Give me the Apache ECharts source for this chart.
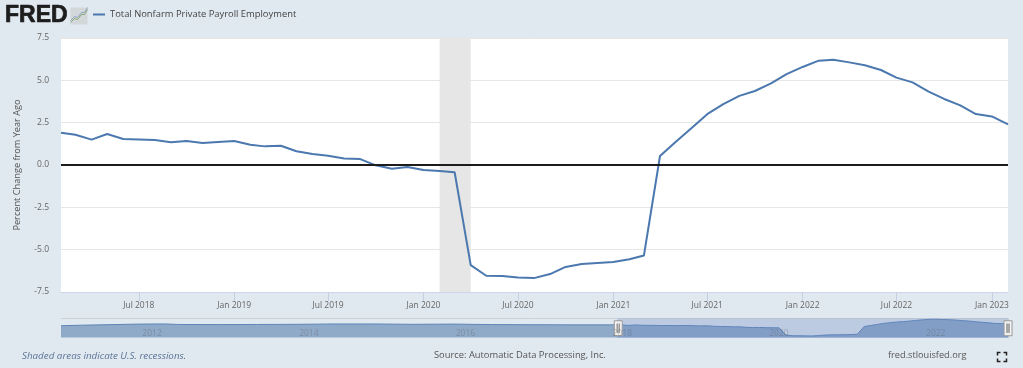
<!DOCTYPE html>
<html>
<head>
<meta charset="utf-8">
<style>
  html, body { margin: 0; padding: 0; background: #e1e9f0; }
  #main { width: 1023px; height: 368px; }
</style>
<script src="https://cdn.jsdelivr.net/npm/echarts@6/dist/echarts.min.js"></script>
</head>
<body>
<div id="main"></div>
<script>
var seriesName = 'Total Nonfarm Private Payroll Employment';

// navigator only (rough)
var historyDates = ['2011-01-01', '2011-04-01', '2011-07-01', '2012-01-01', '2012-05-01', '2012-07-01',
    '2013-01-01', '2013-07-01', '2014-01-01', '2014-07-01', '2015-01-01', '2015-07-01',
    '2016-01-01', '2016-07-01', '2017-01-01', '2017-07-01', '2018-01-01'];
var historyValues = [1.2, 1.6, 1.9, 2.5, 2.6, 2.2, 2.1, 2.2, 2.3, 2.6, 2.6, 2.3, 2.5, 2.1, 2.0, 1.9, 1.9];

// monthly, Feb 2018 to Feb 2023
var monthlyValues = [
    1.91, 1.79, 1.50, 1.83, 1.54, 1.51, 1.48, 1.34, 1.42, 1.30, 1.36,
    1.42, 1.20, 1.10, 1.14, 0.81, 0.65, 0.55, 0.39, 0.35, -0.02, -0.22, -0.12,
    -0.30, -0.35, -0.43, -5.91, -6.54, -6.55, -6.65, -6.68, -6.44, -6.02, -5.85, -5.79,
    -5.73, -5.57, -5.34, 0.53, 1.36, 2.18, 3.00, 3.60, 4.08, 4.37, 4.82, 5.37,
    5.79, 6.16, 6.22, 6.06, 5.89, 5.61, 5.16, 4.88, 4.33, 3.90, 3.52, 3.01,
    2.87, 2.40
];

var viewStart = '2018-02-01';
var viewEnd = '2023-02-01';
var recessionStart = '2020-02-01';
var recessionEnd = '2020-04-01';

var monthNames = ['Jan', 'Feb', 'Mar', 'Apr', 'May', 'Jun', 'Jul', 'Aug', 'Sep', 'Oct', 'Nov', 'Dec'];

function monthDate(i) {
    var m = 1 + i; // i = 0 is Feb 2018
    var y = 2018 + Math.floor(m / 12);
    var mm = (m % 12) + 1;
    return y + '-' + (mm < 10 ? '0' + mm : mm) + '-01';
}
function ts(s) {
    return new Date(s + 'T00:00:00Z').getTime();
}

var allData = [];
historyDates.forEach(function(d, i) { allData.push([ts(d), historyValues[i]]); });
monthlyValues.forEach(function(v, i) { allData.push([ts(monthDate(i)), v]); });

var font = '"Open Sans", "Noto Sans", sans-serif';

var myChart = echarts.init(document.getElementById('main'), null, { renderer: 'canvas' });
var option = {
    backgroundColor: '#e1e9f0',
    animation: false,
    useUTC: true,

    title: [
        { text: 'FRED', left: 5, top: 4, padding: 0, textStyle: { fontFamily: 'Liberation Sans', fontSize: 23, fontWeight: 'bold', color: '#1d1d1d', textBorderColor: '#1d1d1d', textBorderWidth: 0.7 } },
        { text: 'Shaded areas indicate U.S. recessions.', left: 22, top: 351, padding: 0, textStyle: { fontFamily: font, fontSize: 9.8, fontWeight: 'normal', fontStyle: 'italic', color: '#5b7396' } },
        { text: 'Source: Automatic Data Processing, Inc.', left: 434, top: 351, padding: 0, textStyle: { fontFamily: font, fontSize: 9.35, fontWeight: 'normal', color: '#555' } },
        { text: 'fred.stlouisfed.org', left: 888, top: 351, padding: 0, textStyle: { fontFamily: font, fontSize: 9.2, fontWeight: 'normal', color: '#555' } }
    ],

    legend: {
        data: [seriesName],
        left: 92,
        top: 10,
        padding: 0,
        itemWidth: 12,
        itemHeight: 2,
        itemGap: 4,
        textStyle: { fontFamily: font, fontSize: 9.4, color: '#444' }
    },

    grid: [
        { left: 61, right: 15, top: 38, height: 254, backgroundColor: '#fff', show: true, borderWidth: 0, outerBoundsMode: 'none' },
        { left: 61, right: 15, top: 318, height: 19.5, show: true, backgroundColor: 'transparent', borderWidth: 0, outerBoundsMode: 'none' }
    ],

    xAxis: [{
        type: 'time',
        gridIndex: 0,
        splitNumber: 10,
        axisLine: { show: true, onZero: false, lineStyle: { color: '#ccd6eb', width: 1 } },
        axisTick: { show: true, length: 9, lineStyle: { color: '#c6d0e4' } },
        splitLine: { show: false },
        axisLabel: {
            fontFamily: font,
            fontSize: 8.5,
            color: '#666',
            margin: 9,
            hideOverlap: false,
            formatter: function(v) {
                var d = new Date(v);
                if (d.getUTCMonth() !== 0 && d.getUTCMonth() !== 6) return '';
                return monthNames[d.getUTCMonth()] + ' ' + d.getUTCFullYear();
            }
        }
    }, {
        type: 'time',
        gridIndex: 1,
        min: ts('2011-01-01'),
        max: ts(viewEnd),
        splitNumber: 12,
        z: 5,
        axisLine: { show: false },
        axisTick: { show: false },
        splitLine: { show: false },
        axisLabel: {
            inside: true,
            align: 'left',
            margin: -1,
            padding: [0, 0, 0, 3],
            fontFamily: font,
            fontSize: 8.5,
            color: 'rgba(90, 90, 90, 0.35)',
            hideOverlap: false,
            formatter: function(v) {
                var d = new Date(v);
                if (d.getUTCMonth() !== 0 || d.getUTCFullYear() % 2 !== 0) return '';
                return String(d.getUTCFullYear());
            }
        }
    }],

    yAxis: [{
        type: 'value',
        gridIndex: 0,
        min: -7.5,
        max: 7.5,
        interval: 2.5,
        name: 'Percent Change from Year Ago',
        nameLocation: 'middle',
        nameGap: 39,
        nameTextStyle: { fontFamily: font, fontSize: 9.2, color: '#555' },
        axisLine: { show: false },
        axisTick: { show: false },
        splitLine: { lineStyle: { color: '#e6e6e6' } },
        axisLabel: {
            fontFamily: font,
            fontSize: 8.5,
            color: '#666',
            margin: 12,
            formatter: function(v) { return v.toFixed(1); }
        }
    }, {
        type: 'value',
        gridIndex: 1,
        min: -7.9,
        max: 7.2,
        show: false,
        splitLine: { show: false }
    }],

    dataZoom: [{
        type: 'slider',
        xAxisIndex: 0,
        startValue: ts(viewStart),
        endValue: ts(viewEnd),
        left: 61,
        right: 15,
        top: 318,
        height: 19.5,
        showDetail: false,
        showDataShadow: false,
        brushSelect: false,
        moveHandleSize: 0,
        backgroundColor: 'transparent',
        borderColor: 'transparent',
        fillerColor: 'rgba(102, 133, 194, 0.3)',
        handleIcon: 'path://M0 0H8V15H0Z M2.7 3H3.3V12H2.7Z M4.7 3H5.3V12H4.7Z',
        handleSize: 15,
        handleStyle: { color: '#f2f2f2', borderColor: '#999', borderWidth: 1 }
    }],

    series: [{
        name: seriesName,
        type: 'line',
        xAxisIndex: 0,
        yAxisIndex: 0,
        data: allData,
        symbol: 'none',
        lineStyle: { color: '#4b78ae', width: 2 },
        itemStyle: { color: '#4b78ae' },
        markArea: {
            silent: true,
            itemStyle: { color: '#e6e6e6' },
            data: [[{ xAxis: ts(recessionStart) }, { xAxis: ts(recessionEnd) }]]
        },
        markLine: {
            silent: true,
            symbol: 'none',
            label: { show: false },
            lineStyle: { color: '#1c1c1c', width: 2, type: 'solid' },
            data: [{ yAxis: 0 }]
        }
    }, {
        name: 'navigator',
        type: 'line',
        xAxisIndex: 1,
        yAxisIndex: 1,
        data: allData,
        symbol: 'none',
        silent: true,
        lineStyle: { color: '#5f86b8', width: 1 },
        areaStyle: { color: '#8fa9c9', opacity: 1, origin: 'start' }
    }],

    graphic: [{
        // small logo chart next to FRED
        type: 'group',
        left: 68,
        top: 5,
        children: [
            { type: 'rect', shape: { x: 0, y: 0, width: 17, height: 17 }, style: { fill: '#d3d7da' } },
            { type: 'polyline', shape: { points: [[0, 15], [4, 11], [7, 12], [11, 7], [14, 7], [17, 2]] }, style: { stroke: '#84a86c', lineWidth: 1, fill: null } },
            { type: 'polyline', shape: { points: [[0, 13], [4, 9], [7, 10], [11, 5], [14, 5], [17, 0]] }, style: { stroke: '#8ea4c2', lineWidth: 1, fill: null } }
        ]
    }, {
        // fullscreen icon
        type: 'group',
        left: 995,
        top: 350,
        children: [
            { type: 'polyline', shape: { points: [[0, 3], [0, 0], [3, 0]] }, style: { stroke: '#222', lineWidth: 1.5, fill: null } },
            { type: 'polyline', shape: { points: [[6, 0], [9, 0], [9, 3]] }, style: { stroke: '#222', lineWidth: 1.5, fill: null } },
            { type: 'polyline', shape: { points: [[0, 6], [0, 9], [3, 9]] }, style: { stroke: '#222', lineWidth: 1.5, fill: null } },
            { type: 'polyline', shape: { points: [[6, 9], [9, 9], [9, 6]] }, style: { stroke: '#222', lineWidth: 1.5, fill: null } }
        ]
    }, {
        // top edge of the navigator
        type: 'line',
        shape: { x1: 61, y1: 318.5, x2: 1008, y2: 318.5 },
        style: { stroke: '#cdd1d6', lineWidth: 1 }
    }]
};
myChart.setOption(option);
</script>
</body>
</html>
